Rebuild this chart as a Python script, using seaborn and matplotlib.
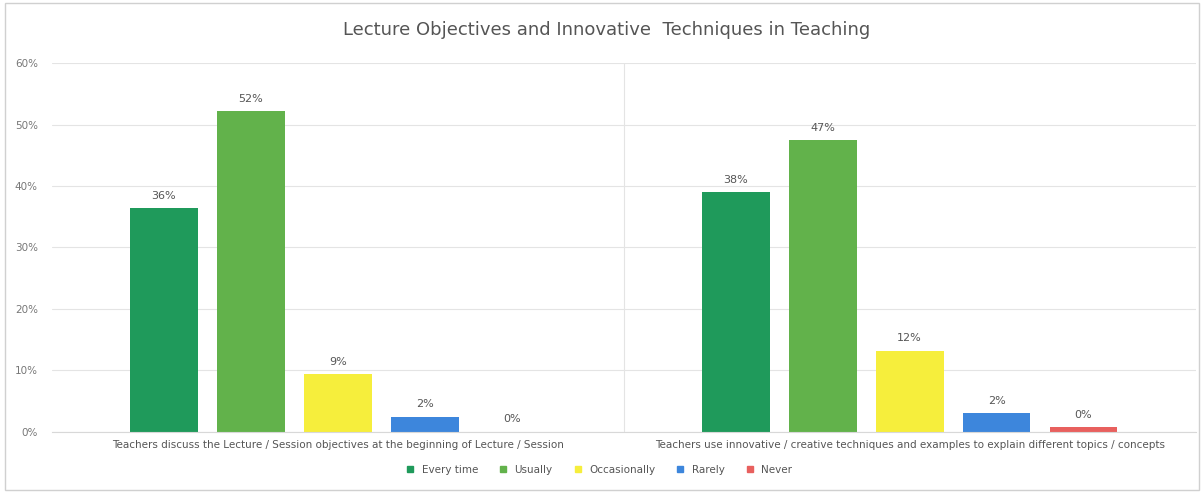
import pandas as pd
import matplotlib.pyplot as plt
import seaborn as sns
from matplotlib.patches import Rectangle

# chart data
questions = ["Teachers discuss the Lecture / Session objectives at the beginning of Lecture / Session",
             "Teachers use innovative / creative techniques and examples to explain different topics / concepts"]
responses = ["Every time", "Usually", "Occasionally", "Rarely", "Never"]
q1_values = [36.4, 52.2, 9.4, 2.5, 0.0]
q2_values = [39.0, 47.5, 13.2, 3.0, 0.8]
q1_labels = ["36%", "52%", "9%", "2%", "0%"]
q2_labels = ["38%", "47%", "12%", "2%", "0%"]
colors = ["#1f9a5b", "#62b24b", "#f6ee3c", "#3d86dc", "#e8605e"]

df = pd.DataFrame({
    "question": [questions[0]] * 5 + [questions[1]] * 5,
    "response": responses * 2,
    "value": q1_values + q2_values,
})

sns.set_style("white")
fig = plt.figure(figsize=(12.04, 4.93), dpi=100)
ax = fig.add_axes([0.043, 0.124, 0.95, 0.748])

sns.barplot(data=df, x="question", y="value", hue="response", hue_order=responses,
            palette=colors, saturation=1, width=0.76, gap=0.22, linewidth=0,
            ax=ax, legend=False)

# value labels
for i, cont in enumerate(ax.containers):
    for j, bar in enumerate(cont):
        lab = (q1_labels if j == 0 else q2_labels)[i]
        ax.text(bar.get_x() + bar.get_width() / 2, bar.get_height() + 1.2, lab,
                ha="center", va="bottom", fontsize=8, color="#555555")

ax.set_ylim(0, 60)
ax.set_xlim(-0.5, 1.5)
ax.set_yticks(range(0, 61, 10))
ax.set_yticklabels([f"{t}%" for t in range(0, 61, 10)], fontsize=7.5, color="#777777")
ax.tick_params(axis="x", labelsize=7.5, colors="#555555", length=0, pad=6)
ax.tick_params(axis="y", length=0, pad=10)
ax.set_xlabel("")
ax.set_ylabel("")
ax.grid(axis="y", color="#e4e4e4", linewidth=0.8)
ax.set_axisbelow(True)
ax.axvline(0.5, color="#e4e4e4", linewidth=0.8, zorder=0)
for s in ["top", "right", "left"]:
    ax.spines[s].set_visible(False)
ax.spines["bottom"].set_color("#d8d8d8")

ax.set_title("Lecture Objectives and Innovative  Techniques in Teaching",
             fontsize=13, color="#555555", pad=20, x=0.485)

# legend
handles = [plt.Line2D([], [], marker="s", linestyle="", color=c, markersize=5) for c in colors]
fig.legend(handles, responses, loc="lower center", bbox_to_anchor=(0.495, 0.018), ncol=5,
           frameon=False, fontsize=7.5, handletextpad=0.1, columnspacing=1.4,
           labelcolor="#555555")

fig.patches.append(Rectangle((0.004, 0.006), 0.992, 0.988, transform=fig.transFigure,
                             fill=False, edgecolor="#d0d0d0", linewidth=1))

plt.savefig("out.png", dpi=100)
